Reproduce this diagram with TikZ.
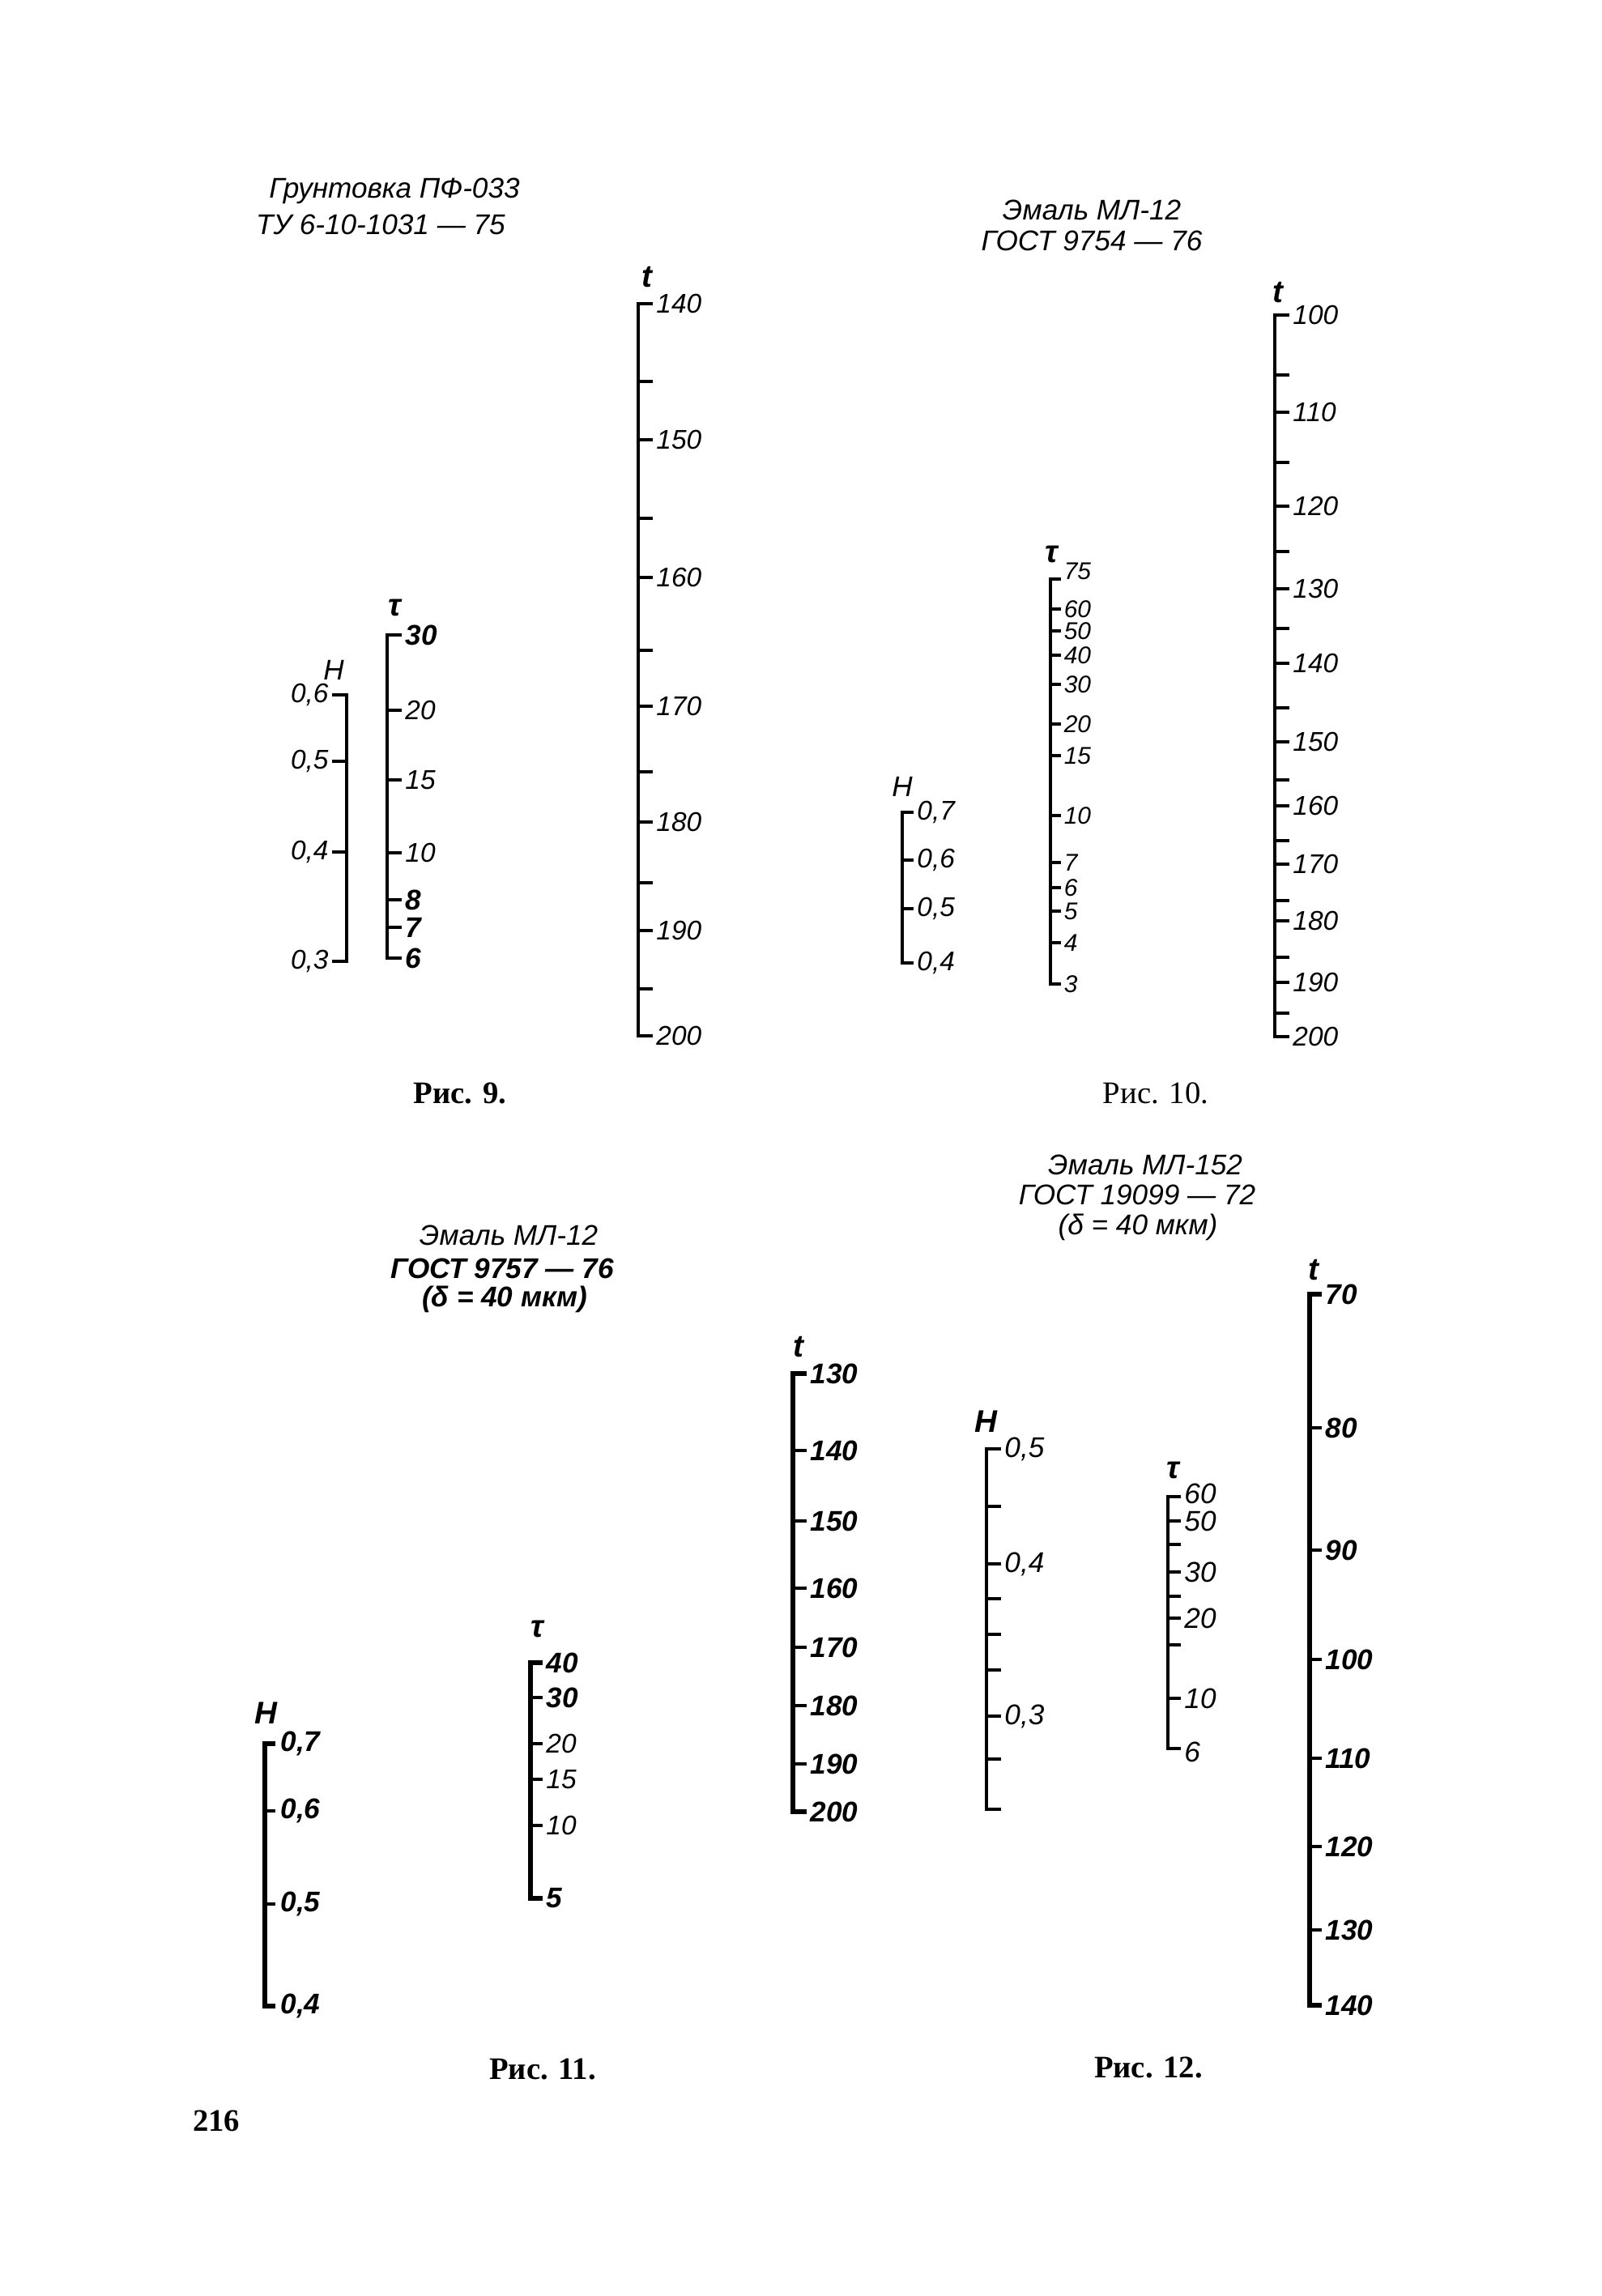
\documentclass[tikz,border=0pt]{standalone}
\usepackage{fontspec}
\setmainfont{Liberation Serif}
\setsansfont{Liberation Sans}
\begin{document}
\begin{tikzpicture}[x=1cm,y=-1cm,
  axis/.style={line width=1.4pt},
  tick/.style={line width=0.9pt},
  lbl/.style={anchor=west,inner sep=0.5pt,font=\sffamily\itshape\fontsize{9.5}{9.5}\selectfont},
  lbls/.style={lbl,inner sep=0.3pt,font=\sffamily\itshape\fontsize{8.5}{8.5}\selectfont},
  lblb/.style={lbl,font=\sffamily\itshape\bfseries\fontsize{10}{10}\selectfont},
  ttl/.style={inner sep=0pt,font=\sffamily\itshape\fontsize{10}{10}\selectfont},
  ttlb/.style={ttl,font=\sffamily\itshape\bfseries\fontsize{10}{10}\selectfont},
  var/.style={inner sep=0pt,font=\sffamily\itshape\bfseries\fontsize{11}{11}\selectfont},
  figcap/.style={inner sep=0pt,font=\bfseries\fontsize{11}{11}\selectfont}]
\path[use as bounding box] (0,0) rectangle (19.78,28.35);
% Fig. 9
\node[ttl] (ttl9a) at (4.87,2.36) {Грунтовка ПФ-033};
\node[ttl] (ttl9b) at (4.70,2.77) {ТУ 6-10-1031 — 75};
\node[var] (t9) at (7.99,3.42) {t};
\draw[axis] (8.06,3.75) -- (7.88,3.75) -- (7.88,12.79) -- (8.06,12.79);
\draw[tick] (7.88,4.71) -- ++(0.18,0);
\draw[tick] (7.88,5.43) -- ++(0.18,0);
\draw[tick] (7.88,6.40) -- ++(0.18,0);
\draw[tick] (7.88,7.13) -- ++(0.18,0);
\draw[tick] (7.88,8.03) -- ++(0.18,0);
\draw[tick] (7.88,8.72) -- ++(0.18,0);
\draw[tick] (7.88,9.53) -- ++(0.18,0);
\draw[tick] (7.88,10.15) -- ++(0.18,0);
\draw[tick] (7.88,10.90) -- ++(0.18,0);
\draw[tick] (7.88,11.49) -- ++(0.18,0);
\draw[tick] (7.88,12.21) -- ++(0.18,0);
\node[lbl] (t9a) at (8.08,3.75) {140};
\node[lbl] (t9b) at (8.08,5.43) {150};
\node[lbl] (t9c) at (8.08,7.13) {160};
\node[lbl] (t9d) at (8.08,8.72) {170};
\node[lbl] (t9e) at (8.08,10.15) {180};
\node[lbl] (t9f) at (8.08,11.49) {190};
\node[lbl] (t9g) at (8.08,12.79) {200};
\node[var] (tau9) at (4.87,7.50) {τ};
\draw[axis] (4.96,7.84) -- (4.78,7.84) -- (4.78,11.83) -- (4.96,11.83);
\draw[tick] (4.78,8.77) -- ++(0.18,0);
\draw[tick] (4.78,9.63) -- ++(0.18,0);
\draw[tick] (4.78,10.53) -- ++(0.18,0);
\draw[tick] (4.78,11.11) -- ++(0.18,0);
\draw[tick] (4.78,11.45) -- ++(0.18,0);
\node[lblb] (tau9a) at (4.98,7.84) {30};
\node[lbl] (tau9b) at (4.98,8.77) {20};
\node[lbl] (tau9c) at (4.98,9.63) {15};
\node[lbl] (tau9d) at (4.98,10.53) {10};
\node[lblb] (tau9e) at (4.98,11.11) {8};
\node[lblb] (tau9f) at (4.98,11.45) {7};
\node[lblb] (tau9g) at (4.98,11.83) {6};
\node[ttl] (H9) at (4.12,8.27) {H};
\draw[axis,line width=1pt] (4.10,8.58) -- (4.28,8.58) -- (4.28,11.87) -- (4.10,11.87);
\draw[tick] (4.28,9.40) -- ++(-0.18,0);
\draw[tick] (4.28,10.52) -- ++(-0.18,0);
\node[lbl,anchor=east] (H9a) at (4.08,8.58) {0,6};
\node[lbl,anchor=east] (H9b) at (4.08,9.40) {0,5};
\node[lbl,anchor=east] (H9c) at (4.08,10.52) {0,4};
\node[lbl,anchor=east] (H9d) at (4.08,11.87) {0,3};
\node[figcap] (cap9) at (5.68,13.50) {Рис. 9.};
% Fig. 10
\node[ttl] (ttl10a) at (13.48,2.59) {Эмаль МЛ-12};
\node[ttl] (ttl10b) at (13.48,2.97) {ГОСТ 9754 — 76};
\node[var] (t10) at (15.78,3.61) {t};
\draw[axis] (15.92,3.89) -- (15.74,3.89) -- (15.74,12.80) -- (15.92,12.80);
\draw[tick] (15.74,4.63) -- ++(0.18,0);
\draw[tick] (15.74,5.09) -- ++(0.18,0);
\draw[tick] (15.74,5.71) -- ++(0.18,0);
\draw[tick] (15.74,6.25) -- ++(0.18,0);
\draw[tick] (15.74,6.81) -- ++(0.18,0);
\draw[tick] (15.74,7.27) -- ++(0.18,0);
\draw[tick] (15.74,7.76) -- ++(0.18,0);
\draw[tick] (15.74,8.19) -- ++(0.18,0);
\draw[tick] (15.74,8.74) -- ++(0.18,0);
\draw[tick] (15.74,9.16) -- ++(0.18,0);
\draw[tick] (15.74,9.63) -- ++(0.18,0);
\draw[tick] (15.74,9.95) -- ++(0.18,0);
\draw[tick] (15.74,10.38) -- ++(0.18,0);
\draw[tick] (15.74,10.67) -- ++(0.18,0);
\draw[tick] (15.74,11.12) -- ++(0.18,0);
\draw[tick] (15.74,11.37) -- ++(0.18,0);
\draw[tick] (15.74,11.82) -- ++(0.18,0);
\draw[tick] (15.74,12.13) -- ++(0.18,0);
\draw[tick] (15.74,12.51) -- ++(0.18,0);
\node[lbl] (t10a) at (15.94,3.89) {100};
\node[lbl] (t10b) at (15.94,5.09) {110};
\node[lbl] (t10c) at (15.94,6.25) {120};
\node[lbl] (t10d) at (15.94,7.27) {130};
\node[lbl] (t10e) at (15.94,8.19) {140};
\node[lbl] (t10f) at (15.94,9.16) {150};
\node[lbl] (t10g) at (15.94,9.95) {160};
\node[lbl] (t10h) at (15.94,10.67) {170};
\node[lbl] (t10i) at (15.94,11.37) {180};
\node[lbl] (t10j) at (15.94,12.13) {190};
\node[lbl] (t10k) at (15.94,12.80) {200};
\node[var] (tau10) at (12.98,6.84) {τ};
\draw[axis] (13.10,7.15) -- (12.97,7.15) -- (12.97,12.15) -- (13.10,12.15);
\draw[tick] (12.97,7.52) -- ++(0.13,0);
\draw[tick] (12.97,7.79) -- ++(0.13,0);
\draw[tick] (12.97,8.09) -- ++(0.13,0);
\draw[tick] (12.97,8.45) -- ++(0.13,0);
\draw[tick] (12.97,8.94) -- ++(0.13,0);
\draw[tick] (12.97,9.33) -- ++(0.13,0);
\draw[tick] (12.97,10.07) -- ++(0.13,0);
\draw[tick] (12.97,10.65) -- ++(0.13,0);
\draw[tick] (12.97,10.96) -- ++(0.13,0);
\draw[tick] (12.97,11.25) -- ++(0.13,0);
\draw[tick] (12.97,11.64) -- ++(0.13,0);
\node[lbls] (tau10a) at (13.12,7.05) {75};
\node[lbls] (tau10b) at (13.12,7.52) {60};
\node[lbls] (tau10c) at (13.12,7.79) {50};
\node[lbls] (tau10d) at (13.12,8.09) {40};
\node[lbls] (tau10e) at (13.12,8.45) {30};
\node[lbls] (tau10f) at (13.12,8.94) {20};
\node[lbls] (tau10g) at (13.12,9.33) {15};
\node[lbls] (tau10h) at (13.12,10.07) {10};
\node[lbls] (tau10i) at (13.12,10.65) {7};
\node[lbls] (tau10j) at (13.12,10.96) {6};
\node[lbls] (tau10k) at (13.12,11.25) {5};
\node[lbls] (tau10l) at (13.12,11.64) {4};
\node[lbls] (tau10m) at (13.12,12.15) {3};
\node[ttl] (H10) at (11.14,9.71) {H};
\draw[axis] (11.28,10.03) -- (11.14,10.03) -- (11.14,11.89) -- (11.28,11.89);
\draw[tick] (11.14,10.62) -- ++(0.14,0);
\draw[tick] (11.14,11.22) -- ++(0.14,0);
\node[lbl] (H10a) at (11.30,10.03) {0,7};
\node[lbl] (H10b) at (11.30,10.62) {0,6};
\node[lbl] (H10c) at (11.30,11.22) {0,5};
\node[lbl] (H10d) at (11.30,11.89) {0,4};
\node[figcap,font=\fontsize{11}{11}\selectfont] (cap10) at (14.27,13.50) {Рис. 10.};
% Fig. 11
\node[ttl] (ttl11a) at (6.28,15.25) {Эмаль МЛ-12};
\node[ttlb] (ttl11b) at (6.20,15.66) {ГОСТ 9757 — 76};
\node[ttlb] (ttl11c) at (6.23,16.04) {(δ = 40 мкм)};
\node[var] (H11) at (3.28,21.15) {H};
\draw[axis,line width=1.8pt] (3.40,21.53) -- (3.27,21.53) -- (3.27,24.77) -- (3.40,24.77);
\draw[tick] (3.27,22.36) -- ++(0.13,0);
\draw[tick] (3.27,23.51) -- ++(0.13,0);
\node[lblb] (H11a) at (3.44,21.53) {0,7};
\node[lblb] (H11b) at (3.44,22.36) {0,6};
\node[lblb] (H11c) at (3.44,23.51) {0,5};
\node[lblb] (H11d) at (3.44,24.77) {0,4};
\node[var] (tau11) at (6.63,20.11) {τ};
\draw[axis,line width=1.8pt] (6.70,20.53) -- (6.55,20.53) -- (6.55,23.44) -- (6.70,23.44);
\draw[tick] (6.55,20.96) -- ++(0.15,0);
\draw[tick] (6.55,21.53) -- ++(0.15,0);
\draw[tick] (6.55,21.97) -- ++(0.15,0);
\draw[tick] (6.55,22.54) -- ++(0.15,0);
\node[lblb] (tau11a) at (6.72,20.53) {40};
\node[lblb] (tau11b) at (6.72,20.96) {30};
\node[lbl] (tau11c) at (6.72,21.53) {20};
\node[lbl] (tau11d) at (6.72,21.97) {15};
\node[lbl] (tau11e) at (6.72,22.54) {10};
\node[lblb] (tau11f) at (6.72,23.44) {5};
\node[var] (t11) at (9.86,16.63) {t};
\draw[axis,line width=1.8pt] (9.96,16.96) -- (9.79,16.96) -- (9.79,22.37) -- (9.96,22.37);
\draw[tick] (9.79,17.91) -- ++(0.17,0);
\draw[tick] (9.79,18.78) -- ++(0.17,0);
\draw[tick] (9.79,19.61) -- ++(0.17,0);
\draw[tick] (9.79,20.34) -- ++(0.17,0);
\draw[tick] (9.79,21.06) -- ++(0.17,0);
\draw[tick] (9.79,21.78) -- ++(0.17,0);
\node[lblb] (t11a) at (9.98,16.96) {130};
\node[lblb] (t11b) at (9.98,17.91) {140};
\node[lblb] (t11c) at (9.98,18.78) {150};
\node[lblb] (t11d) at (9.98,19.61) {160};
\node[lblb] (t11e) at (9.98,20.34) {170};
\node[lblb] (t11f) at (9.98,21.06) {180};
\node[lblb] (t11g) at (9.98,21.78) {190};
\node[lblb] (t11h) at (9.98,22.37) {200};
\node[figcap] (cap11) at (6.70,25.55) {Рис. 11.};
% Fig. 12
\node[ttl] (ttl12a) at (14.14,14.38) {Эмаль МЛ-152};
\node[ttl] (ttl12b) at (14.04,14.75) {ГОСТ 19099 — 72};
\node[ttl] (ttl12c) at (14.05,15.15) {(δ = 40 мкм)};
\node[var] (H12) at (12.17,17.55) {H};
\draw[axis] (12.36,17.89) -- (12.18,17.89) -- (12.18,22.34) -- (12.36,22.34);
\draw[tick] (12.18,18.60) -- ++(0.18,0);
\draw[tick] (12.18,19.31) -- ++(0.18,0);
\draw[tick] (12.18,19.74) -- ++(0.18,0);
\draw[tick] (12.18,20.18) -- ++(0.18,0);
\draw[tick] (12.18,20.62) -- ++(0.18,0);
\draw[tick] (12.18,21.19) -- ++(0.18,0);
\draw[tick] (12.18,21.72) -- ++(0.18,0);
\node[lbl,font=\sffamily\itshape\fontsize{10}{10}\selectfont] (H12a) at (12.38,17.89) {0,5};
\node[lbl,font=\sffamily\itshape\fontsize{10}{10}\selectfont] (H12b) at (12.38,19.31) {0,4};
\node[lbl,font=\sffamily\itshape\fontsize{10}{10}\selectfont] (H12c) at (12.38,21.19) {0,3};
\node[var] (tau12) at (14.48,18.15) {τ};
\draw[axis] (14.58,18.48) -- (14.42,18.48) -- (14.42,21.59) -- (14.58,21.59);
\draw[tick] (14.42,18.78) -- ++(0.16,0);
\draw[tick] (14.42,19.07) -- ++(0.16,0);
\draw[tick] (14.42,19.41) -- ++(0.16,0);
\draw[tick] (14.42,19.71) -- ++(0.16,0);
\draw[tick] (14.42,19.98) -- ++(0.16,0);
\draw[tick] (14.42,20.31) -- ++(0.16,0);
\draw[tick] (14.42,20.97) -- ++(0.16,0);
\node[lbl,font=\sffamily\itshape\fontsize{10}{10}\selectfont] (tau12a) at (14.60,18.44) {60};
\node[lbl,font=\sffamily\itshape\fontsize{10}{10}\selectfont] (tau12b) at (14.60,18.78) {50};
\node[lbl,font=\sffamily\itshape\fontsize{10}{10}\selectfont] (tau12c) at (14.60,19.41) {30};
\node[lbl,font=\sffamily\itshape\fontsize{10}{10}\selectfont] (tau12d) at (14.60,19.98) {20};
\node[lbl,font=\sffamily\itshape\fontsize{10}{10}\selectfont] (tau12e) at (14.60,20.97) {10};
\node[lbl,font=\sffamily\itshape\fontsize{10}{10}\selectfont] (tau12f) at (14.60,21.63) {6};
\node[var] (t12) at (16.22,15.68) {t};
\draw[axis,line width=1.8pt] (16.32,15.98) -- (16.17,15.98) -- (16.17,24.76) -- (16.32,24.76);
\draw[tick] (16.17,17.63) -- ++(0.15,0);
\draw[tick] (16.17,19.14) -- ++(0.15,0);
\draw[tick] (16.17,20.49) -- ++(0.15,0);
\draw[tick] (16.17,21.71) -- ++(0.15,0);
\draw[tick] (16.17,22.80) -- ++(0.15,0);
\draw[tick] (16.17,23.83) -- ++(0.15,0);
\node[lblb] (t12a) at (16.34,15.98) {70};
\node[lblb] (t12b) at (16.34,17.63) {80};
\node[lblb] (t12c) at (16.34,19.14) {90};
\node[lblb] (t12d) at (16.34,20.49) {100};
\node[lblb] (t12e) at (16.34,21.71) {110};
\node[lblb] (t12f) at (16.34,22.80) {120};
\node[lblb] (t12g) at (16.34,23.83) {130};
\node[lblb] (t12h) at (16.34,24.76) {140};
\node[figcap] (cap12) at (14.18,25.53) {Рис. 12.};
\node[figcap] (page) at (2.67,26.19) {216};
\end{tikzpicture}
\end{document}
